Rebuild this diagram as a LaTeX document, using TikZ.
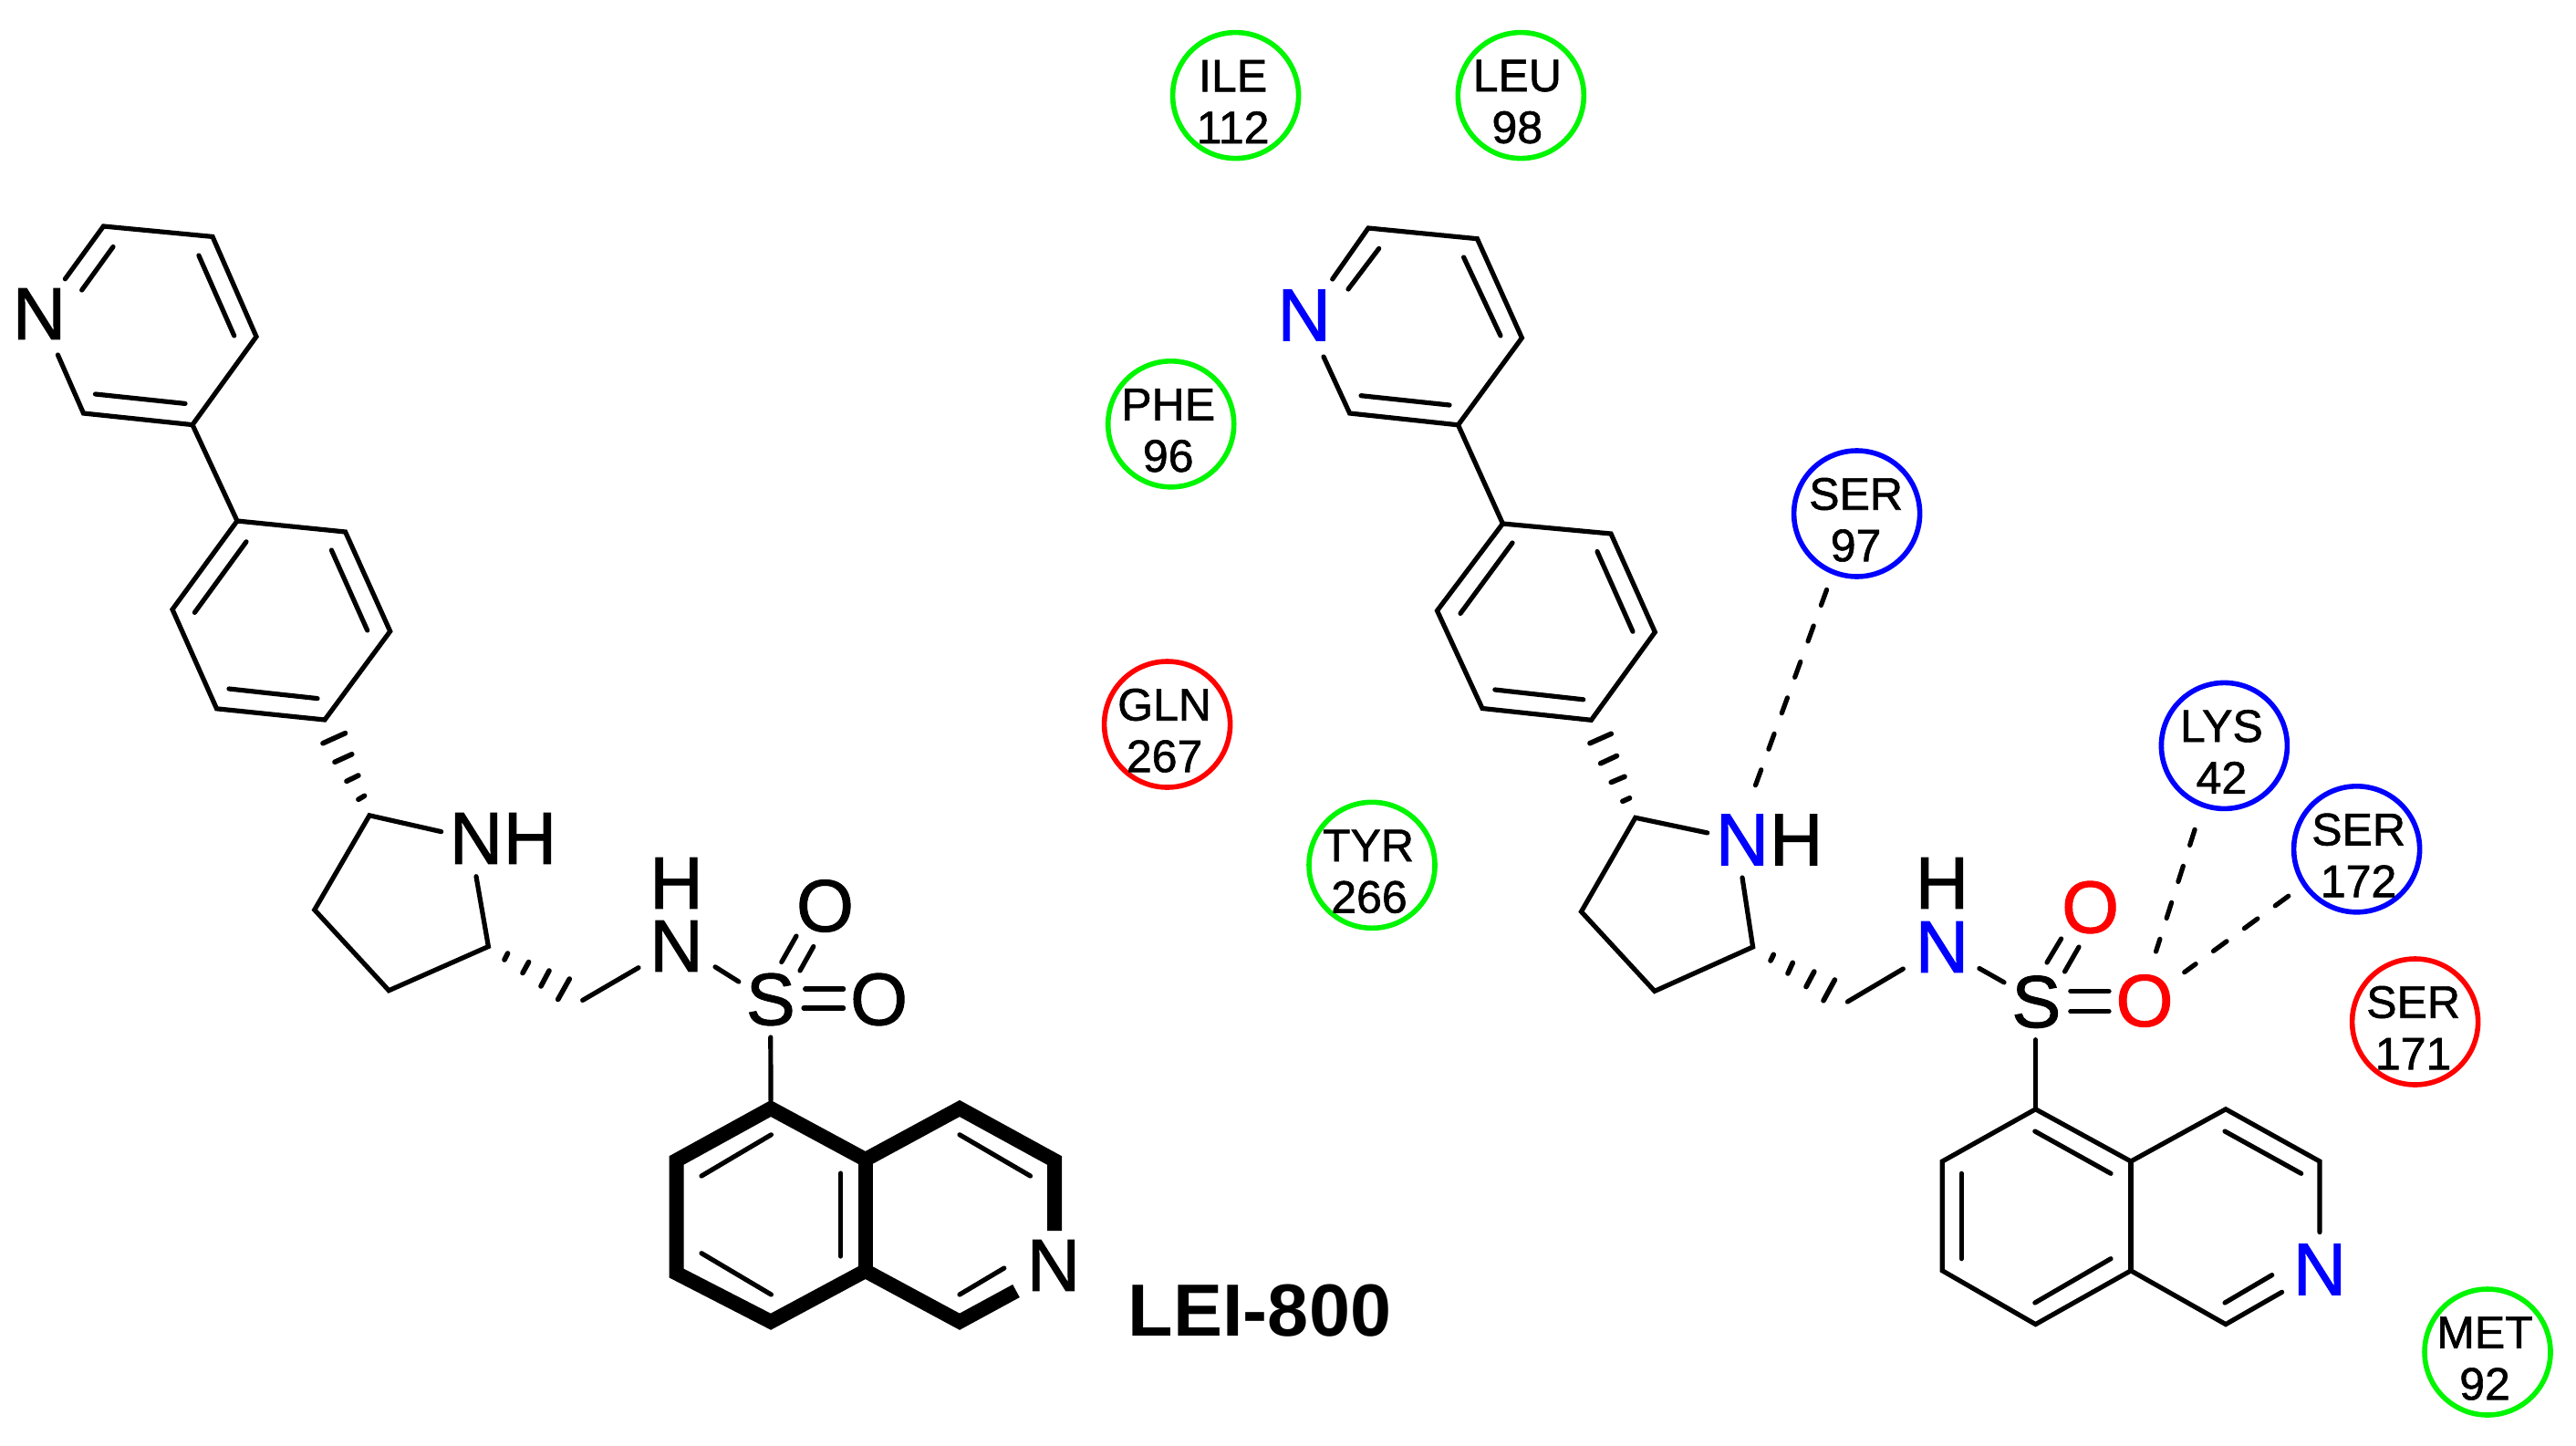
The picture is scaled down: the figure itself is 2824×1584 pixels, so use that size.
\documentclass[tikz,border=0pt]{standalone}
\usepackage{fontspec}
\setmainfont{Liberation Sans}
\newfontfamily\heavyfont[FakeBold=1.2]{Liberation Sans}
\usetikzlibrary{calc}
\definecolor{resgreen}{RGB}{0,245,0}
\definecolor{resblue}{RGB}{0,0,255}
\definecolor{resred}{RGB}{255,0,0}
\tikzset{
  bond/.style={line width=2.6pt,line join=miter,line cap=round},
  boldbond/.style={line width=8pt,line join=miter,line cap=butt},
  hash/.style={line width=2.8pt,line cap=round},
  hbond/.style={line width=2.6pt,line cap=round,dash pattern=on 9pt off 12pt},
  atom/.style={inner sep=0pt,outer sep=0pt,font=\heavyfont\fontsize{40.5}{40.5}\selectfont},
  res/.style={circle,line width=2.8pt,minimum size=69pt,inner sep=0pt,fill=none},
  restext/.style={inner sep=0pt,outer sep=0pt,font=\heavyfont\fontsize{25}{25}\selectfont},
  title/.style={inner sep=0pt,outer sep=0pt,font=\fontsize{40.5}{40.5}\selectfont\bfseries}
}
\newcommand{\residue}[8]{%
  \node[res,draw=#4] (#1) at (#2,#3) {};
  \node[restext] (#1a) at ($(#1)+(#7,-21.5)$) {#5};
  \node[restext] (#1b) at ($(#1)+(#8,35)$) {#6};
}
\begin{document}
\begin{tikzpicture}[x=0.5pt,y=-0.5pt]
\useasboundingbox[fill=white] (0,0) rectangle (2824,1584);

% ---------- left molecule ----------
\coordinate (la1) at (113.4,248);
\coordinate (la2) at (233,259.4);
\coordinate (la3) at (281,369);
\coordinate (la4) at (211,465.6);
\coordinate (la5) at (91.5,453);
\coordinate (laN1) at (71.4,305.8);
\coordinate (laN2) at (63.4,389);
\coordinate (lb1) at (260,571);
\coordinate (lb2) at (378.6,583);
\coordinate (lb3) at (427.7,692);
\coordinate (lb4) at (356,789);
\coordinate (lb5) at (237.5,776.8);
\coordinate (lb6) at (189,668);
\coordinate (lca) at (405,893.8);
\coordinate (lcaN) at (483.7,911.6);
\coordinate (lcbN) at (522,960.7);
\coordinate (lcb) at (535.4,1037.5);
\coordinate (lcc) at (426.3,1085.7);
\coordinate (lcd) at (344.8,997.3);
\coordinate (lch) at (638.7,1096.4);
\coordinate (lchN) at (700,1060.7);
\coordinate (lnS) at (784,1059.8);
\coordinate (lsN) at (809.8,1076);
\coordinate (lsC) at (844.8,1137);
\coordinate (lr1) at (845,1215);
\coordinate (lr2) at (741.5,1272);
\coordinate (lr3) at (741.5,1395.5);
\coordinate (lr4) at (845,1448.7);
\coordinate (lr5) at (948.7,1393);
\coordinate (lr6) at (948.7,1271);
\coordinate (lr7) at (1052,1215);
\coordinate (lr8) at (1156,1272);
\coordinate (lr9) at (1156,1349);
\coordinate (lr10) at (1052,1448.7);
\coordinate (lr11) at (1114,1415);

\node[atom] (lN1) at (43,344) {N};
\node[atom] (lN2) at (522,919) {N};
\node[atom] (lH2) at (581,919) {H};
\node[atom] (lN3) at (741.4,1037) {N};
\node[atom] (lH3) at (741.4,968) {H};
\node[atom] (lS) at (844.8,1095.5) {S};
\node[atom] (lO1) at (904.5,993) {O};
\node[atom] (lO2) at (963.6,1095.5) {O};
\node[atom] (lN4) at (1155,1387) {N};

\draw[bond] (laN1) -- (la1) -- (la2) -- (la3) -- (la4) -- (la5) -- (laN2);
\draw[bond] (124,270.5) -- (89.7,318);
\draw[bond] (217.9,280) -- (256.7,368);
\draw[bond] (104.5,432) -- (203,442.4);
\draw[bond] (la4) -- (lb1);
\draw[bond] (lb1) -- (lb2) -- (lb3) -- (lb4) -- (lb5) -- (lb6) -- cycle;
\draw[bond] (270,593.8) -- (213.4,671.4);
\draw[bond] (363.4,603) -- (402.7,691);
\draw[bond] (251,755) -- (348,765.6);
\draw[hash] (354,814.7) -- (378.6,803.6);
\draw[hash] (367,835.3) -- (385.7,826.8);
\draw[hash] (380,856.3) -- (392.9,850);
\draw[hash] (392.9,876.3) -- (399.6,872.3);
\draw[bond] (lcaN) -- (lca) -- (lcd) -- (lcc) -- (lcb) -- (lcbN);
\draw[hash] (556.6,1045) -- (553,1052);
\draw[hash] (579.6,1054.5) -- (573,1066.5);
\draw[hash] (602,1064) -- (593,1081);
\draw[hash] (624.3,1073) -- (611.7,1095.5);
\draw[bond] (lch) -- (lchN);
\draw[bond] (lnS) -- (lsN);
\draw[bond] (873,1026) -- (856.8,1054.5);
\draw[bond] (891.8,1037.5) -- (877,1064);
\draw[bond] (882.7,1084) -- (924.6,1084);
\draw[bond] (881,1105) -- (924.6,1105);
\draw[bond] (lsC) -- (845,1206);
\draw[boldbond] (lr9) -- (lr8) -- (lr7) -- (lr6) -- (lr1) -- (lr2) -- (lr3) -- (lr4) -- (lr5) -- (lr10) -- (lr11);
\draw[boldbond] (lr6) -- (lr5);
\draw[bond] (845.4,1243.8) -- (769,1289);
\draw[bond] (921.7,1286) -- (921.7,1377);
\draw[bond] (769,1373.7) -- (845.4,1419);
\draw[bond] (1052,1243.8) -- (1129.5,1289);
\draw[bond] (1052,1419) -- (1100.8,1390);

\node[title,anchor=center] (lei) at (1381,1436.5) {LEI-800};

% ---------- right molecule ----------
\coordinate (ra1) at (1500,250);
\coordinate (ra2) at (1619.4,261.7);
\coordinate (ra3) at (1668.4,370.4);
\coordinate (ra4) at (1598.5,465.8);
\coordinate (ra5) at (1479.6,453);
\coordinate (raN1) at (1460.7,306);
\coordinate (raN2) at (1451,391);
\coordinate (rb1) at (1647.4,574);
\coordinate (rb2) at (1766,585);
\coordinate (rb3) at (1814.3,692.9);
\coordinate (rb4) at (1744.4,789.3);
\coordinate (rb5) at (1625,776.5);
\coordinate (rb6) at (1575.5,669.4);
\coordinate (rca) at (1792.8,896.3);
\coordinate (rcaN) at (1871.7,912.9);
\coordinate (rcbN) at (1910,962);
\coordinate (rcb) at (1921.6,1038);
\coordinate (rcc) at (1813.9,1086.4);
\coordinate (rcd) at (1733.5,999.3);
\coordinate (rch) at (2025.4,1098);
\coordinate (rchN) at (2086.3,1062);
\coordinate (rnS) at (2169.9,1061.5);
\coordinate (rsN) at (2197,1076.8);
\coordinate (rsC) at (2231.5,1139.7);
\coordinate (rr1) at (2231.5,1215.8);
\coordinate (rr2) at (2129.3,1273);
\coordinate (rr3) at (2129.3,1392.8);
\coordinate (rr4) at (2231.5,1451.6);
\coordinate (rr5) at (2336,1392.8);
\coordinate (rr6) at (2336,1273);
\coordinate (rr7) at (2440,1215.8);
\coordinate (rr8) at (2543,1273);
\coordinate (rr9) at (2543,1350.6);
\coordinate (rr10) at (2440,1451.6);
\coordinate (rr11) at (2501.6,1416.3);

\node[atom,text=resblue] (rN1) at (1429.6,345.4) {N};
\node[atom,text=resblue] (rN2) at (1910,920.5) {N};
\node[atom] (rH2) at (1969.2,920.5) {H};
\node[atom,text=resblue] (rN3) at (2128.9,1038) {N};
\node[atom] (rH3) at (2128.9,968) {H};
\node[atom] (rS) at (2232.3,1098.2) {S};
\node[atom,text=resred] (rO1) at (2291.6,994.5) {O};
\node[atom,text=resred] (rO2) at (2351,1097) {O};
\node[atom,text=resblue] (rN4) at (2543,1391.4) {N};

\draw[bond] (raN1) -- (ra1) -- (ra2) -- (ra3) -- (ra4) -- (ra5) -- (raN2);
\draw[bond] (1511.7,272.4) -- (1478,317);
\draw[bond] (1604.6,282) -- (1645,368);
\draw[bond] (1492,433.7) -- (1589,444);
\draw[bond] (ra4) -- (rb1);
\draw[bond] (rb1) -- (rb2) -- (rb3) -- (rb4) -- (rb5) -- (rb6) -- cycle;
\draw[bond] (1658,595) -- (1601,672.4);
\draw[bond] (1751,604.6) -- (1790,692.3);
\draw[bond] (1638.8,756) -- (1735.7,766.8);
\draw[hash] (1742.9,814.7) -- (1766.3,804.3);
\draw[hash] (1754.6,836.8) -- (1772.5,828.5);
\draw[hash] (1766.3,857.5) -- (1781,851.3);
\draw[hash] (1778.8,878.3) -- (1786.6,874.8);
\draw[bond] (rcaN) -- (rca) -- (rcd) -- (rcc) -- (rcb) -- (rcbN);
\draw[hash] (1944.3,1046.3) -- (1941,1053);
\draw[hash] (1965.3,1055.3) -- (1960,1067);
\draw[hash] (1988.8,1065) -- (1980,1081.6);
\draw[hash] (2011.4,1074) -- (1999,1096.8);
\draw[bond] (rch) -- (rchN);
\draw[bond] (rnS) -- (rsN);
\draw[bond] (2259.6,1029) -- (2244,1055);
\draw[bond] (2279,1038) -- (2263.5,1065);
\draw[bond] (2269.8,1086.4) -- (2312,1086.4);
\draw[bond] (2269.8,1108.6) -- (2312,1108.6);
\draw[bond] (rsC) -- (rr1);
\draw[bond] (rr9) -- (rr8) -- (rr7) -- (rr6) -- (rr1) -- (rr2) -- (rr3) -- (rr4) -- (rr5) -- (rr10) -- (rr11);
\draw[bond] (rr6) -- (rr5);
\draw[bond] (2230.8,1240) -- (2314,1286.3);
\draw[bond] (2150.3,1286.3) -- (2150.3,1379.7);
\draw[bond] (2230.8,1428) -- (2314,1379.7);
\draw[bond] (2439,1240) -- (2522.7,1286.3);
\draw[bond] (2439,1428) -- (2490.7,1397.6);

% ---------- residues ----------
\residue{ile}{1354.6}{104.6}{resgreen}{ILE}{112}{-3}{-3}
\residue{leu}{1667.3}{104.6}{resgreen}{LEU}{98}{-4}{-4}
\residue{phe}{1283.7}{464.8}{resgreen}{PHE}{96}{-3}{-3}
\residue{gln}{1279.6}{794}{resred}{GLN}{267}{-3}{-3}
\residue{tyr}{1504}{948.3}{resgreen}{TYR}{266}{-4}{-3}
\residue{ser97}{2035.6}{563}{resblue}{SER}{97}{-1}{-1}
\residue{lys}{2438.4}{817.4}{resblue}{LYS}{42}{-3}{-3}
\residue{ser172}{2583.6}{930.8}{resblue}{SER}{172}{2}{2}
\residue{ser171}{2647.6}{1120}{resred}{SER}{171}{-2}{-2}
\residue{met}{2727}{1482}{resgreen}{MET}{92}{-3}{-3}

% ---------- interactions ----------
\coordinate (hb1) at (1922.4,866.5);
\coordinate (hb2) at (2363.5,1043);
\coordinate (hb3) at (2394.7,1065.7);
\draw[hbond,shorten <=9pt] (ser97.248) -- (hb1);
\draw[hbond,shorten <=12.8pt] (lys.250) -- (hb2);
\draw[hbond,shorten <=9.5pt] (ser172.214) -- (hb3);
\end{tikzpicture}
\end{document}
